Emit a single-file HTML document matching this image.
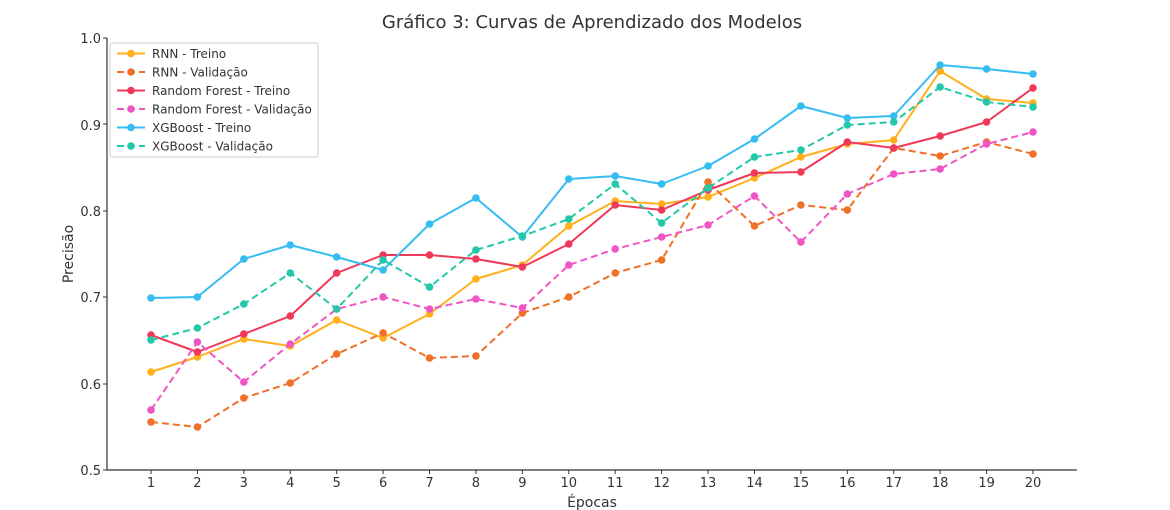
<!DOCTYPE html>
<html><head><meta charset="utf-8"><style>
html,body{margin:0;padding:0;background:#fff;}
svg{display:block;font-family:"DejaVu Sans","Liberation Sans",sans-serif;}
</style></head><body>
<svg id="c" width="1170" height="510" viewBox="0 0 1170 510" xmlns="http://www.w3.org/2000/svg">
<rect width="1170" height="510" fill="#fff"/>
<text x="592" y="28" font-size="18" text-anchor="middle" fill="#333">Gráfico 3: Curvas de Aprendizado dos Modelos</text>
<g stroke="#333" stroke-width="1.2">
<line x1="107" y1="38" x2="107" y2="470"/>
<line x1="107" y1="470" x2="1077" y2="470"/>
</g>
<g id="ticks" stroke="#333" stroke-width="1"></g>
<g font-size="13" fill="#333" text-anchor="end">
<text x="101" y="475">0.5</text>
<text x="101" y="389">0.6</text>
<text x="101" y="302">0.7</text>
<text x="101" y="216">0.8</text>
<text x="101" y="130">0.9</text>
<text x="101" y="43">1.0</text>
</g>
<g font-size="13" fill="#333" text-anchor="middle">
<text x="151" y="487">1</text><text x="197.4" y="487">2</text><text x="243.8" y="487">3</text><text x="290.3" y="487">4</text><text x="336.7" y="487">5</text><text x="383.1" y="487">6</text><text x="429.5" y="487">7</text><text x="475.9" y="487">8</text><text x="522.4" y="487">9</text><text x="568.8" y="487">10</text><text x="615.2" y="487">11</text><text x="661.6" y="487">12</text><text x="708" y="487">13</text><text x="754.5" y="487">14</text><text x="800.9" y="487">15</text><text x="847.3" y="487">16</text><text x="893.7" y="487">17</text><text x="940.1" y="487">18</text><text x="986.6" y="487">19</text><text x="1033" y="487">20</text>
</g>
<text x="592" y="507" font-size="14" text-anchor="middle" fill="#333">Épocas</text>
<text transform="translate(73,254) rotate(-90)" font-size="14" text-anchor="middle" fill="#333">Precisão</text>
<g id="series"></g>
<rect x="110" y="43" width="208" height="114" fill="#fff" fill-opacity="0.85" stroke="#ccc" rx="2"/>
<g id="leg"></g>
<g font-size="12" fill="#333">
<text x="152" y="58">RNN - Treino</text>
<text x="152" y="76.5">RNN - Validação</text>
<text x="152" y="95">Random Forest - Treino</text>
<text x="152" y="113.5">Random Forest - Validação</text>
<text x="152" y="132">XGBoost - Treino</text>
<text x="152" y="150.5">XGBoost - Validação</text>
</g>
</svg>
<script>
var NS="http://www.w3.org/2000/svg";
function el(t,a,p){var e=document.createElementNS(NS,t);for(var k in a)e.setAttribute(k,a[k]);p.appendChild(e);return e;}
var tk=document.getElementById("ticks");
for(var i=0;i<20;i++){var x=151+i*46.42;el("line",{x1:x,y1:470,x2:x,y2:474},tk);}
[470,384,297,211,124,38].forEach(function(y){el("line",{x1:103,y1:y,x2:107,y2:y},tk);});
var S=[
["#ffb01a",0,[372,357,339,346,320,338,314,279,265,226,201,204,197,178,157,144,140,71,99,103]],
["#f07028",1,[422,427,398,383,354,333,358,356,313,297,273,260,182,226,205,210,148,156,142,154]],
["#f0385a",0,[335,352,334,316,273,255,255,259,267,244,205,210,190,173,172,142,148,136,122,88]],
["#f055c4",1,[410,342,382,344,309,297,309,299,308,265,249,237,225,196,242,194,174,169,144,132]],
["#35bdf2",0,[298,297,259,245,257,270,224,198,237,179,176,184,166,139,106,118,116,65,69,74]],
["#22c8a8",1,[340,328,304,273,309,260,287,250,236,219,184,223,188,157,150,125,122,87,102,107]]];
var g=document.getElementById("series"),lg=document.getElementById("leg");
S.forEach(function(s,j){
 var pts=s[2].map(function(y,i){return (151+i*46.42).toFixed(1)+","+y;}).join(" ");
 var a={points:pts,fill:"none",stroke:s[0],"stroke-width":2,"stroke-linejoin":"round"};
 if(s[1])a["stroke-dasharray"]="7,4";
 el("polyline",a,g);
 s[2].forEach(function(y,i){el("circle",{cx:151+i*46.42,cy:y,r:3.8,fill:s[0]},g);});
 var ly=53.5+j*18.5;
 var b={x1:117,y1:ly,x2:145,y2:ly,stroke:s[0],"stroke-width":2};
 if(s[1])b["stroke-dasharray"]="7,4";
 el("line",b,lg);el("circle",{cx:131,cy:ly,r:3.8,fill:s[0]},lg);
});
</script>
</body></html>
